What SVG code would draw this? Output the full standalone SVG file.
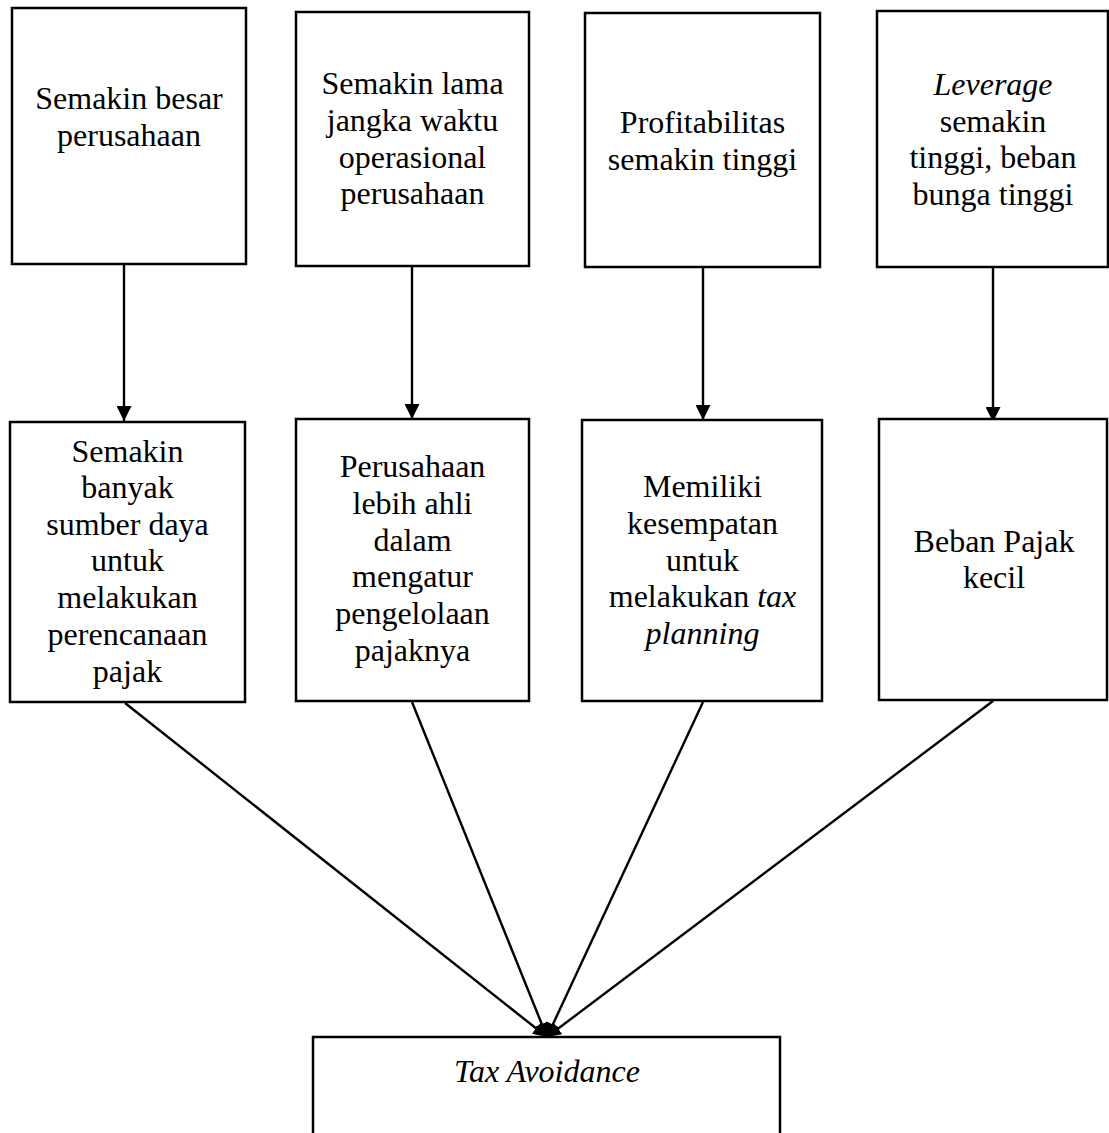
<svg xmlns="http://www.w3.org/2000/svg" width="1109" height="1133" viewBox="0 0 1109 1133">
<style>
.box{fill:#fff;stroke:#000;stroke-width:2.5}
.t{font-family:"Liberation Serif","Times New Roman",serif;font-size:32px;fill:#000;text-anchor:middle}
.i{font-style:italic}
.c{stroke:#000;stroke-width:2.4;fill:none}
</style>
<defs>
<marker id="ah" viewBox="0 0 15 15" refX="15" refY="7.5" markerWidth="15" markerHeight="15" markerUnits="userSpaceOnUse" orient="auto"><path d="M0,0 L15,7.5 L0,15 z" fill="#000"/></marker>
<marker id="ah2" viewBox="0 0 14 14" refX="14" refY="7" markerWidth="14" markerHeight="14" markerUnits="userSpaceOnUse" orient="auto"><path d="M0,0 L14,7 L0,14 z" fill="#000"/></marker>
</defs>
<rect width="1109" height="1133" fill="#fff"/>
<g id="connectors">
<line class="c" x1="124" y1="265" x2="124" y2="421" marker-end="url(#ah)"/>
<line class="c" x1="412" y1="267" x2="412" y2="419" marker-end="url(#ah)"/>
<line class="c" x1="703" y1="268" x2="703" y2="420" marker-end="url(#ah)"/>
<line class="c" x1="993" y1="268" x2="993" y2="422" marker-end="url(#ah)"/>
<line class="c" x1="125" y1="703" x2="547" y2="1037" marker-end="url(#ah2)"/>
<line class="c" x1="412" y1="702" x2="547" y2="1037" marker-end="url(#ah2)"/>
<line class="c" x1="703" y1="702" x2="547" y2="1037" marker-end="url(#ah2)"/>
<line class="c" x1="993" y1="701" x2="547" y2="1037" marker-end="url(#ah2)"/>
</g>
<g id="n1"><rect class="box" x="12" y="8" width="234" height="256"/>
<text class="t" x="129" y="109">Semakin besar</text><text class="t" x="129" y="146">perusahaan</text></g>
<g id="n2"><rect class="box" x="296" y="12" width="233" height="254"/>
<text class="t" x="412.5" y="94">Semakin lama</text><text class="t" x="412.5" y="131">jangka waktu</text><text class="t" x="412.5" y="168">operasional</text><text class="t" x="412.5" y="204">perusahaan</text></g>
<g id="n3"><rect class="box" x="585" y="13" width="235" height="254"/>
<text class="t" x="702.5" y="133">Profitabilitas</text><text class="t" x="702.5" y="170">semakin tinggi</text></g>
<g id="n4"><rect class="box" x="877" y="11" width="231" height="256"/>
<text class="t i" x="993" y="95">Leverage</text><text class="t" x="993" y="132">semakin</text><text class="t" x="993" y="168">tinggi, beban</text><text class="t" x="993" y="205">bunga tinggi</text></g>
<g id="n5"><rect class="box" x="10" y="422" width="235" height="280"/>
<text class="t" x="127.5" y="462">Semakin</text><text class="t" x="127.5" y="498">banyak</text><text class="t" x="127.5" y="535">sumber daya</text><text class="t" x="127.5" y="571">untuk</text><text class="t" x="127.5" y="608">melakukan</text><text class="t" x="127.5" y="645">perencanaan</text><text class="t" x="127.5" y="682">pajak</text></g>
<g id="n6"><rect class="box" x="296" y="419" width="233" height="282"/>
<text class="t" x="412.5" y="477">Perusahaan</text><text class="t" x="412.5" y="514">lebih ahli</text><text class="t" x="412.5" y="551">dalam</text><text class="t" x="412.5" y="587">mengatur</text><text class="t" x="412.5" y="624">pengelolaan</text><text class="t" x="412.5" y="661">pajaknya</text></g>
<g id="n7"><rect class="box" x="582" y="420" width="240" height="281"/>
<text class="t" x="702.5" y="497">Memiliki</text><text class="t" x="702.5" y="534">kesempatan</text><text class="t" x="702.5" y="571">untuk</text><text class="t" x="702.5" y="607">melakukan <tspan class="i">tax</tspan></text><text class="t i" x="702.5" y="644">planning</text></g>
<g id="n8"><rect class="box" x="879" y="419" width="228" height="281"/>
<text class="t" x="994" y="552">Beban Pajak</text><text class="t" x="994" y="588">kecil</text></g>
<g id="n9"><rect class="box" x="313" y="1037" width="467" height="120"/>
<text class="t i" x="547" y="1082">Tax Avoidance</text></g>
</svg>
